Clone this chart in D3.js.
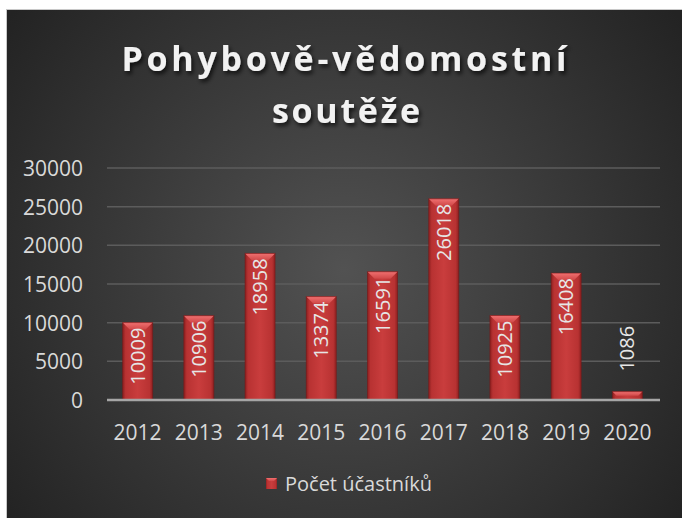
<!DOCTYPE html>
<html><head><meta charset="utf-8">
<script src="https://cdnjs.cloudflare.com/ajax/libs/d3/7.8.5/d3.min.js"></script>
<style>
html,body{margin:0;padding:0;background:#fff;}
svg{display:block;}
</style></head>
<body>
<script>
const categories = ["2012","2013","2014","2015","2016","2017","2018","2019","2020"];
const values = [10009,10906,18958,13374,16591,26018,10925,16408,1086];
const yTicks = [0,5000,10000,15000,20000,25000,30000];
const seriesName = "Počet účastníků";
const titleLines = ["Pohybově-vědomostní","soutěže"];

const W = 682, H = 518;
const svg = d3.select("body").append("svg").attr("width", W).attr("height", H);
const defs = svg.append("defs");

const bg = defs.append("radialGradient").attr("id","bg")
  .attr("gradientUnits","userSpaceOnUse").attr("cx",344).attr("cy",270).attr("r",420);
bg.append("stop").attr("offset","0%").attr("stop-color","#525252");
bg.append("stop").attr("offset","100%").attr("stop-color","#232323");

const barG = defs.append("linearGradient").attr("id","barg").attr("x1","0").attr("x2","1").attr("y1","0").attr("y2","0");
barG.append("stop").attr("offset","0%").attr("stop-color","#8e2020");
barG.append("stop").attr("offset","10%").attr("stop-color","#b83232");
barG.append("stop").attr("offset","50%").attr("stop-color","#c93d3d");
barG.append("stop").attr("offset","90%").attr("stop-color","#b83232");
barG.append("stop").attr("offset","100%").attr("stop-color","#8e2020");

const topG = defs.append("linearGradient").attr("id","topg").attr("x1","0").attr("x2","0").attr("y1","0").attr("y2","1");
topG.append("stop").attr("offset","0%").attr("stop-color","#f07070");
topG.append("stop").attr("offset","100%").attr("stop-color","#d04848");

const sh = defs.append("filter").attr("id","tsh").attr("x","-10%").attr("y","-30%").attr("width","120%").attr("height","160%");
sh.append("feDropShadow").attr("dx",2).attr("dy",3).attr("stdDeviation",2).attr("flood-color","#000").attr("flood-opacity",0.7);

svg.append("rect").attr("x",6.5).attr("y",9.5).attr("width",W-6).attr("height",H-9)
  .attr("fill","url(#bg)").attr("stroke","#c8c8c8").attr("stroke-width",1);

// title
const title = svg.append("g").attr("font-family","'Open Sans', sans-serif").attr("font-weight","bold")
  .attr("font-size",34).attr("fill","#f2f2f2").attr("text-anchor","middle").attr("filter","url(#tsh)");
title.append("text").attr("x",344).attr("y",71).attr("textLength",445).attr("lengthAdjust","spacing").text(titleLines[0]);
title.append("text").attr("x",346).attr("y",123).attr("textLength",148).attr("lengthAdjust","spacing").text(titleLines[1]);

const x = d3.scaleBand().domain(categories).range([107,658]).paddingInner(0.51).paddingOuter(0.255);
const y = d3.scaleLinear().domain([0,30000]).range([400,168]);

// grid
svg.append("g").selectAll("line").data(yTicks.filter(d=>d>0)).join("line")
  .attr("x1",107).attr("x2",660).attr("y1",d=>y(d)).attr("y2",d=>y(d))
  .attr("stroke","#5c5c5c").attr("stroke-width",1.5);

// y axis labels
const yAxis = svg.append("g").attr("transform","translate(83,0)")
  .call(d3.axisLeft(y).tickValues(yTicks).tickSize(0).tickPadding(0).tickFormat(d3.format("d")));
yAxis.select(".domain").remove();
yAxis.selectAll("text").attr("font-family","'Open Sans', sans-serif").attr("font-size",21).attr("fill","#d9d9d9").attr("dy","0.35em");

// bars
const bars = svg.append("g").selectAll("g").data(values).join("g");
bars.append("rect")
  .attr("x",(d,i)=>x(categories[i])).attr("width",x.bandwidth())
  .attr("y",d=>y(d)).attr("height",d=>y(0)-y(d))
  .attr("fill","url(#barg)");
const bev = 7;
bars.append("path")
  .attr("d",(d,i)=>{
    const x0 = x(categories[i]), x1 = x0 + x.bandwidth(), t = y(d);
    const b = Math.min(bev, (y(0)-t)/2);
    return `M${x0},${t}L${x1},${t}L${x1-b},${t+b}L${x0+b},${t+b}Z`;
  }).attr("fill","url(#topg)");
bars.append("rect")
  .attr("x",(d,i)=>x(categories[i])).attr("width",x.bandwidth())
  .attr("y",d=>y(d)).attr("height",d=>y(0)-y(d))
  .attr("fill","none").attr("stroke","#7a1818").attr("stroke-opacity",0.6).attr("stroke-width",1);

// x axis baseline
svg.append("line").attr("x1",107).attr("x2",660).attr("y1",y(0)).attr("y2",y(0))
  .attr("stroke","#a6a6a6").attr("stroke-width",2.5);

// x labels
const xAxis = svg.append("g").attr("transform",`translate(0,${y(0)})`)
  .call(d3.axisBottom(x).tickSize(0).tickPadding(0));
xAxis.select(".domain").remove();
xAxis.selectAll("text").attr("font-family","'Open Sans', sans-serif").attr("font-size",21).attr("fill","#d9d9d9")
  .attr("dy",null).attr("y",40);

// data labels
const labels = svg.append("g").selectAll("text").data(values).join("text")
  .attr("font-family","'Open Sans', sans-serif").attr("font-size",20).attr("fill","#e6e6e6")
  .attr("text-anchor","end").attr("dy","0.35em")
  .text(d=>d);
labels.each(function(d,i){
  const len = this.getComputedTextLength();
  const cx = x(categories[i]) + x.bandwidth()/2;
  const top = y(d);
  let start;
  if (y(0) - top > len + 10) start = top + 5;
  else start = top - len - 20;
  d3.select(this).attr("transform",`translate(${cx},${start}) rotate(-90)`);
});

// legend
const lg = svg.append("g").attr("transform","translate(266,478)");
lg.append("rect").attr("width",11).attr("height",11).attr("fill","url(#barg)");
lg.append("path").attr("d","M0,0L11,0L8,3L3,3Z").attr("fill","url(#topg)");
lg.append("text").attr("x",19).attr("y",5.5).attr("dy","0.35em").attr("font-family","'Open Sans', sans-serif")
  .attr("font-size",20).attr("fill","#d9d9d9").text(seriesName);
</script>
</body></html>
